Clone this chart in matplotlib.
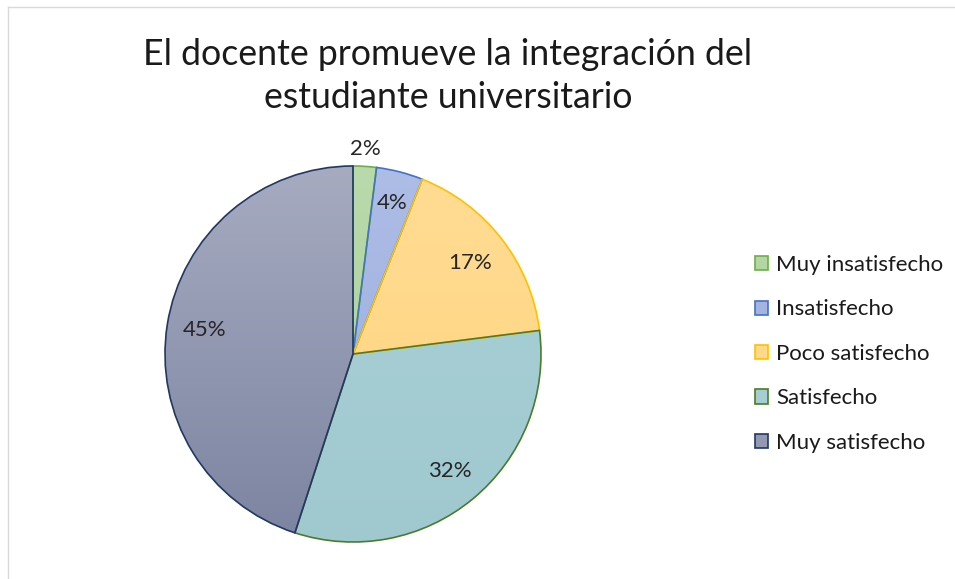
import numpy as np
import matplotlib
matplotlib.use('Agg')
import matplotlib.pyplot as plt
from matplotlib.colors import LinearSegmentedColormap
from matplotlib.patches import Patch
from matplotlib.lines import Line2D

plt.rcParams['font.family'] = ['Lato', 'DejaVu Sans']

title = 'El docente promueve la integración del\nestudiante universitario'
categories = ['Muy insatisfecho', 'Insatisfecho', 'Poco satisfecho', 'Satisfecho', 'Muy satisfecho']
values = [2, 4, 17, 32, 45]
labels = ['2%', '4%', '17%', '32%', '45%']

# (top colour, bottom colour, edge colour) for each slice, Excel gradient look
tops = ['#B9DAAC', '#AEBDE6', '#FFDC94', '#A9D1D7', '#A6ABC0']
bottoms = ['#A8CE98', '#98ABDC', '#FFD37C', '#A0C9CF', '#7C84A1']
edges = ['#70AD47', '#4472C4', '#FFC000', '#4E7A29', '#203864']
mids = ['#B3D6A4', '#A3B4E1', '#FFD98A', '#A5CDD3', '#9299B0']
label_dist = [1.09, 0.83, 0.79, 0.81, 0.80]

W, H = 955, 579
fig = plt.figure(figsize=(W / 100, H / 100), dpi=100)

cx, cy, R = 353, 354, 188
ax = fig.add_axes([(cx - R) / W, (H - cy - R) / H, 2 * R / W, 2 * R / H])
wedges, _ = ax.pie(values, startangle=90, counterclock=False,
                   wedgeprops=dict(linewidth=1.2))
grad = np.linspace(0, 1, 256).reshape(-1, 1)
for w, c1, c2, ec in zip(wedges, tops, bottoms, edges):
    cmap = LinearSegmentedColormap.from_list('g', [c1, c2])
    im = ax.imshow(grad, cmap=cmap, extent=(-1, 1, -1, 1), origin='upper',
                   aspect='auto', zorder=1)
    im.set_clip_path(w)
    w.set_facecolor('none')
    w.set_edgecolor(ec)
    w.set_zorder(2)
ax.set_xlim(-1, 1)
ax.set_ylim(-1, 1)
ax.axis('off')

total = float(sum(values))
cum = 0.0
for v, lab, d in zip(values, labels, label_dist):
    mid = (cum + v / 2) / total * 360
    ang = np.deg2rad(90 - mid)
    ax.text(d * np.cos(ang), d * np.sin(ang), lab, ha='center', va='center',
            fontsize=16, color='#262626', zorder=3)
    cum += v

fig.text(448 / W, 1 - 76 / H, title, ha='center', va='center', fontsize=25.7,
         color='#1a1a1a', linespacing=1.4)

handles = [Patch(facecolor=m, edgecolor=e, linewidth=1.2) for m, e in zip(mids, edges)]
fig.legend(handles, categories, loc='upper left', bbox_to_anchor=(755 / W, 1 - 255 / H),
           frameon=False, fontsize=16, handlelength=0.6, handleheight=0.6,
           handletextpad=0.35, labelspacing=1.1, borderaxespad=0, borderpad=0,
           labelcolor='#1a1a1a')

# light chart border (only top and left visible)
fig.add_artist(Line2D([8 / W, 1], [1 - 7 / H, 1 - 7 / H], color='#D9D9D9', lw=1))
fig.add_artist(Line2D([8 / W, 8 / W], [0, 1 - 7 / H], color='#D9D9D9', lw=1))

fig.savefig('out.png', dpi=100, facecolor='white')
